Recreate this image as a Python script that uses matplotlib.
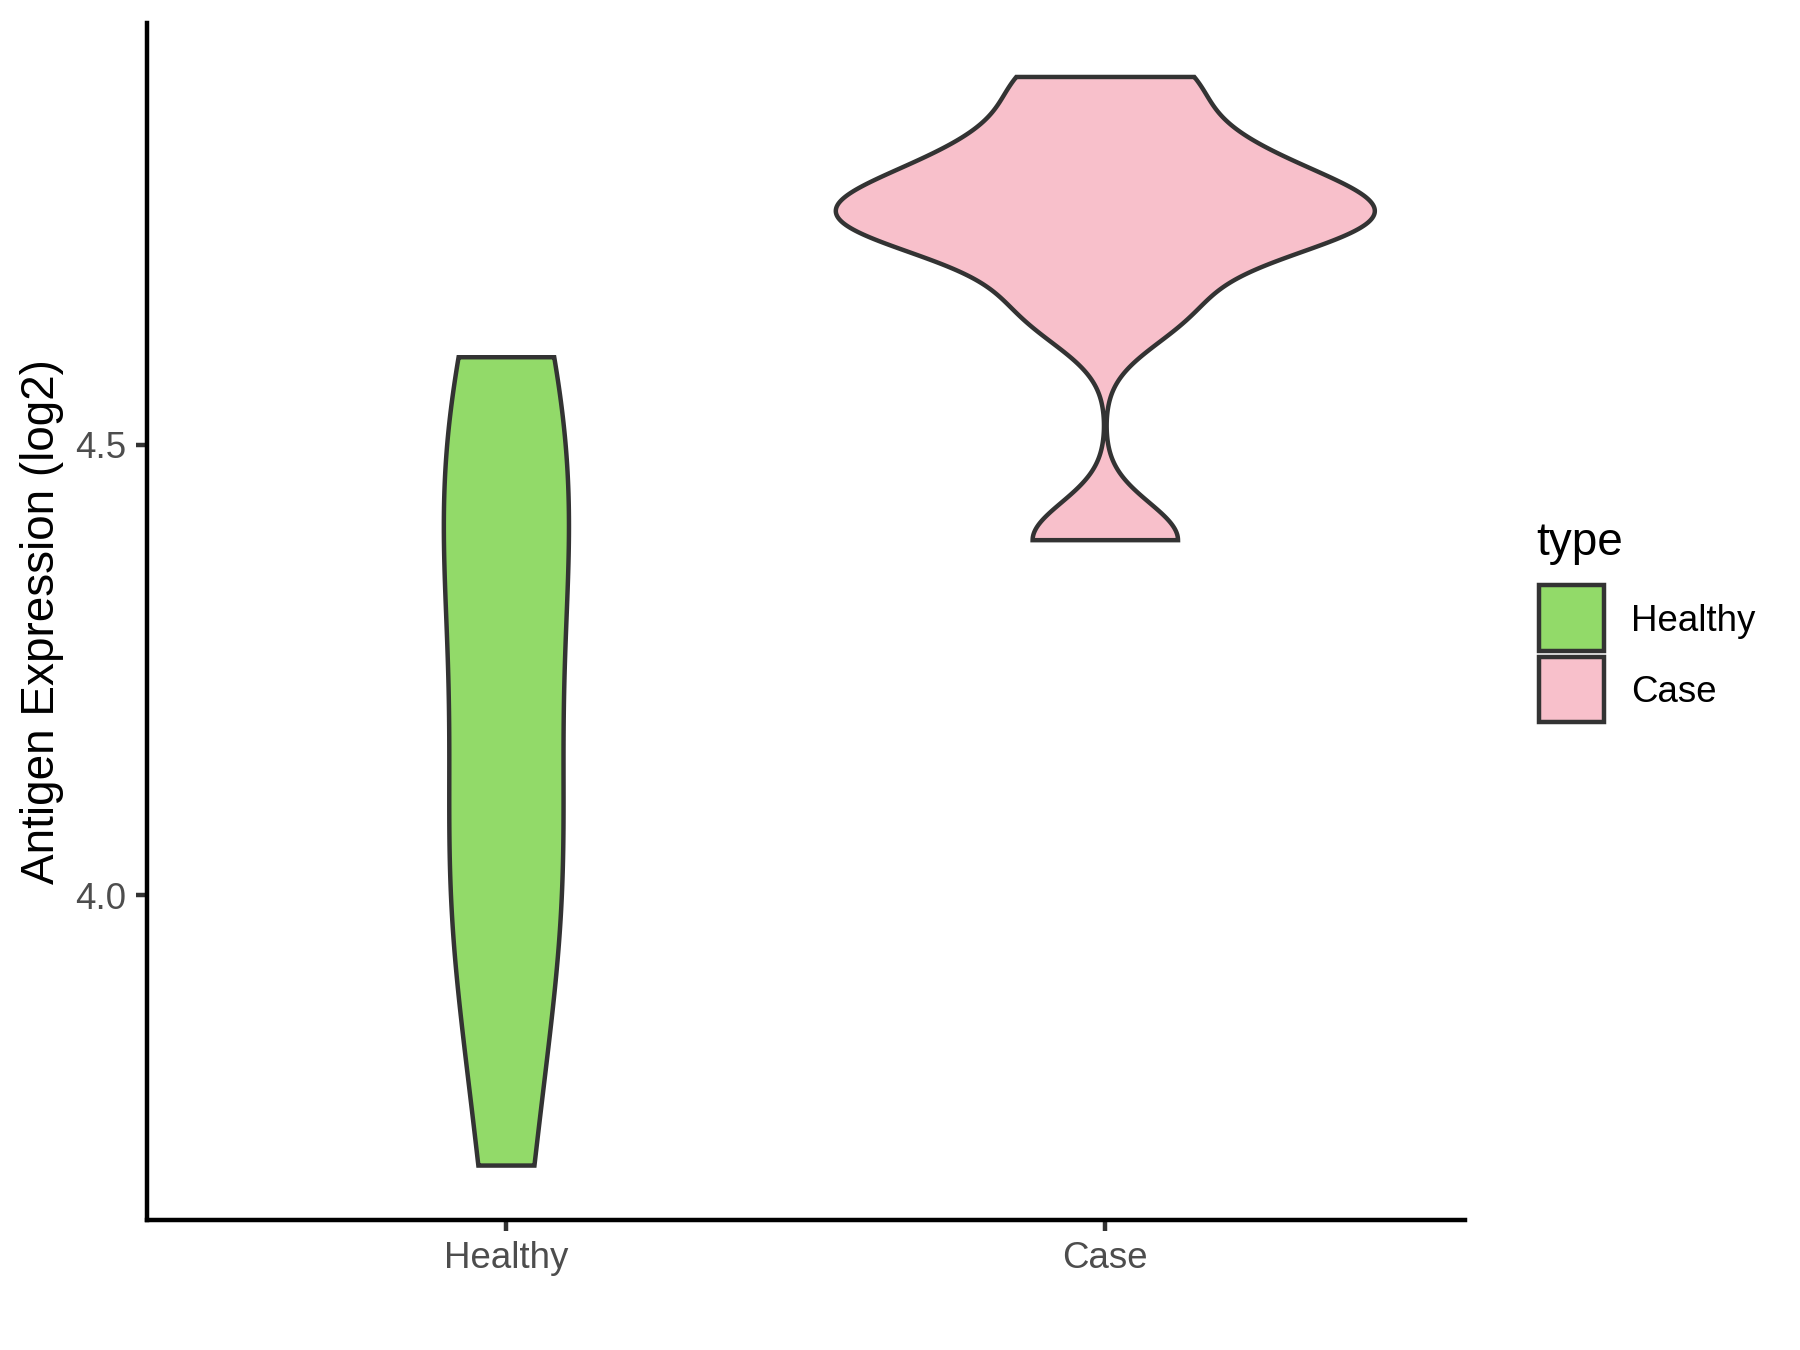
import numpy as np
import matplotlib
matplotlib.use("Agg")
import matplotlib.pyplot as plt
from matplotlib.patches import Rectangle

plt.rcParams['font.family'] = ['Liberation Sans', 'DejaVu Sans']

# ---- data ----
groups = ["Healthy", "Case"]
healthy_values = [3.700, 3.980, 3.983, 4.108, 4.349, 4.407, 4.506, 4.597]
case_values = [4.394, 4.648, 4.727, 4.752, 4.755, 4.790, 4.834, 4.908]
fill_colors = ["#92DA69", "#F8C0CB"]
y_ticks = [4.0, 4.5]
y_ticklabels = ["4.0", "4.5"]
y_label = "Antigen Expression (log2)"
legend_title = "type"

edge = "#333333"
lw = 1.07


def bw_nrd0(x):
    x = np.asarray(x, float)
    sd = np.std(x, ddof=1)
    q75, q25 = np.percentile(x, [75, 25])
    lo = min(sd, (q75 - q25) / 1.34)
    return 0.9 * lo * len(x) ** (-0.2)


def kde(x, grid):
    x = np.asarray(x, float)
    h = bw_nrd0(x)
    z = (grid[:, None] - x[None, :]) / h
    return np.exp(-0.5 * z ** 2).sum(axis=1) / (len(x) * h * np.sqrt(2 * np.pi))


data = [healthy_values, case_values]
grids, dens = [], []
for vals in data:
    g = np.linspace(min(vals), max(vals), 512)
    grids.append(g)
    dens.append(kde(vals, g))
maxd = max(d.max() for d in dens)

fig = plt.figure(figsize=(6, 4.5), dpi=300)
ax = fig.add_axes([0.0817, 0.0963, 0.732, 0.887])

for i, (g, d) in enumerate(zip(grids, dens)):
    pos = i + 1
    w = 0.45 * d / maxd
    xs = np.concatenate([pos - w, (pos + w)[::-1]])
    ys = np.concatenate([g, g[::-1]])
    ax.fill(xs, ys, facecolor=fill_colors[i], edgecolor=edge, linewidth=lw,
            joinstyle="miter", zorder=2)

allv = np.concatenate([np.asarray(v) for v in data])
rng = allv.max() - allv.min()
ax.set_ylim(allv.min() - 0.05 * rng, allv.max() + 0.05 * rng)
ax.set_xlim(0.4, 2.6)

ax.set_xticks([1, 2])
ax.set_xticklabels(groups)
ax.set_yticks(y_ticks)
ax.set_yticklabels(y_ticklabels)
ax.tick_params(axis="both", colors="#333333", length=2.75, width=lw,
               labelsize=8.8, labelcolor="#4D4D4D", pad=2.2)
for s in ["top", "right"]:
    ax.spines[s].set_visible(False)
for s in ["left", "bottom"]:
    ax.spines[s].set_linewidth(lw)
    ax.spines[s].set_color("black")
    ax.spines[s].set_capstyle("projecting")
ax.set_ylabel(y_label, fontsize=11, color="black", labelpad=2.8)

# ---- legend ----
fig.text(1536 / 1800, 1 - 555 / 1350, legend_title, fontsize=11, ha="left", va="baseline")
key_x = 1538.7 / 1800
key_w = 65.3 / 1800
key_rows = [(585, 650.7, 631), (657, 722, 702)]
for i, name in enumerate(groups):
    top, bot, base = key_rows[i]
    yb = 1 - bot / 1350
    fig.patches.append(Rectangle((key_x, yb), key_w, (bot - top) / 1350,
                                 transform=fig.transFigure,
                                 facecolor=fill_colors[i], edgecolor=edge, linewidth=lw,
                                 joinstyle="miter"))
    fig.text(1631 / 1800, 1 - base / 1350, name, fontsize=8.8, ha="left", va="baseline")

fig.savefig("out.png", dpi=300, facecolor="white")
